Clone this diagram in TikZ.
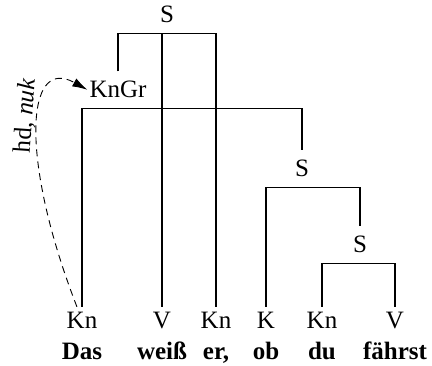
\documentclass[tikz,border=0pt]{standalone}
\usepackage{fontspec}
\setmainfont{Liberation Serif}
\usetikzlibrary{arrows.meta}

\begin{document}
\begin{tikzpicture}[x=1pt,y=-1pt,
    every node/.style={font=\fontsize{25}{30}\selectfont,text height=16.5pt,text depth=0pt},
    cat/.style={anchor=base,inner xsep=2pt,inner ysep=5.5pt},
    phr/.style={anchor=base,inner xsep=2pt,inner ysep=10pt},
    word/.style={anchor=base,font=\fontsize{25}{30}\selectfont\bfseries},
    branch/.style={line width=1.3pt},
    rel/.style={dash pattern=on 7pt off 5pt,line width=0.9pt,-{Latex[length=15pt,width=9pt]}}]
    \useasboundingbox (0,0) rectangle (432,366);
    % phrase labels
    \node[phr] (s1) at (167,23) {S};
    \node[phr] (kngr) at (118,98) {KnGr};
    \node[phr] (s2) at (302,177) {S};
    \node[phr] (s3) at (360,253) {S};
    % categories and words
    \foreach \n/\x/\c/\w in {kn1/82/Kn/Das,v1/162/V/weiß,kn2/216/Kn/{er,},k/266/K/ob,kn3/322/Kn/du,v2/395/V/fährst} {
        \node[cat] (\n) at (\x,329) {\c};
        \node[word] (w\n) at (\x,360) {\w};
    }
    % branches
    \draw[branch] (kngr.north) |- (s1.south) -| (kn2.north);
    \draw[branch] (v1.north) -- (v1.north |- s1.south);
    \draw[branch] (kn1.north) |- (kngr.south) -| (s2.north);
    \draw[branch] (k.north) |- (s2.south) -| (s3.north);
    \draw[branch] (kn3.north) |- (s3.south) -| (v2.north);
    % relation
    \draw[rel] (kn1.110) .. controls (20,160) and (25,55) .. (kngr.west)
        node[pos=0.56,rotate=86,anchor=south,inner sep=3pt,text depth=3pt] {hd, \textit{nuk}};
\end{tikzpicture}
\end{document}
